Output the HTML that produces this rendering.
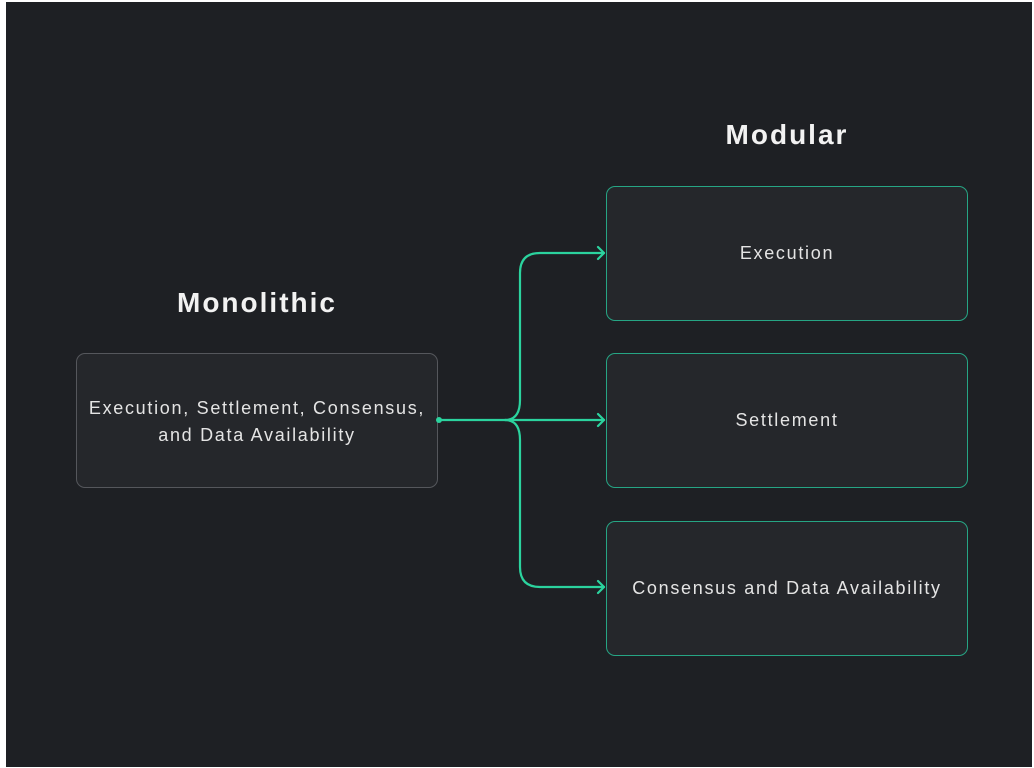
<!DOCTYPE html>
<html><head><meta charset="utf-8"><style>
html,body{margin:0;padding:0;background:#fff;}
.wrap{position:absolute;left:6px;top:2px;width:1026px;height:765px;background:#1e2024;overflow:hidden;}
body{width:1034px;height:768px;position:relative;overflow:hidden;font-family:"Liberation Sans",sans-serif;}
.t{position:absolute;color:#f2f2f2;font-weight:bold;font-size:28px;letter-spacing:2px;text-align:center;}
.box{position:absolute;box-sizing:border-box;border-radius:9px;background:#25272b;color:#e4e4e4;font-size:18px;letter-spacing:1.7px;display:flex;align-items:center;justify-content:center;text-align:center;line-height:27px;}
.g{border:1.5px solid #26a584;}
</style></head><body>
<div class="wrap"></div>
<div class="t" style="left:76px;width:362px;top:287px;">Monolithic</div>
<div class="t" style="left:606px;width:362px;top:119px;">Modular</div>
<div class="box" style="left:76px;top:353px;width:362px;height:135px;border:1.5px solid #55575c;padding-top:2px;">Execution, Settlement, Consensus,<br>and Data Availability</div>
<div class="box g" style="left:606px;top:186px;width:362px;height:135px;">Execution</div>
<div class="box g" style="left:606px;top:353px;width:362px;height:135px;">Settlement</div>
<div class="box g" style="left:606px;top:521px;width:362px;height:135px;">Consensus and Data Availability</div>
<svg width="1034" height="768" style="position:absolute;left:0;top:0" fill="none" stroke="#2bd39e" stroke-width="2.2" stroke-linecap="round" stroke-linejoin="round">
<circle cx="439" cy="420" r="3" fill="#2bd39e" stroke="none"/>
<path d="M439 420 H604"/>
<path d="M505 420 Q520 420 520 400 V273 Q520 253 540 253 H604"/>
<path d="M505 420 Q520 420 520 440 V567 Q520 587 540 587 H604"/>
<path d="M598 247 L604 253 L598 259 M598 414 L604 420 L598 426 M598 581 L604 587 L598 593"/>
</svg>
</body></html>
